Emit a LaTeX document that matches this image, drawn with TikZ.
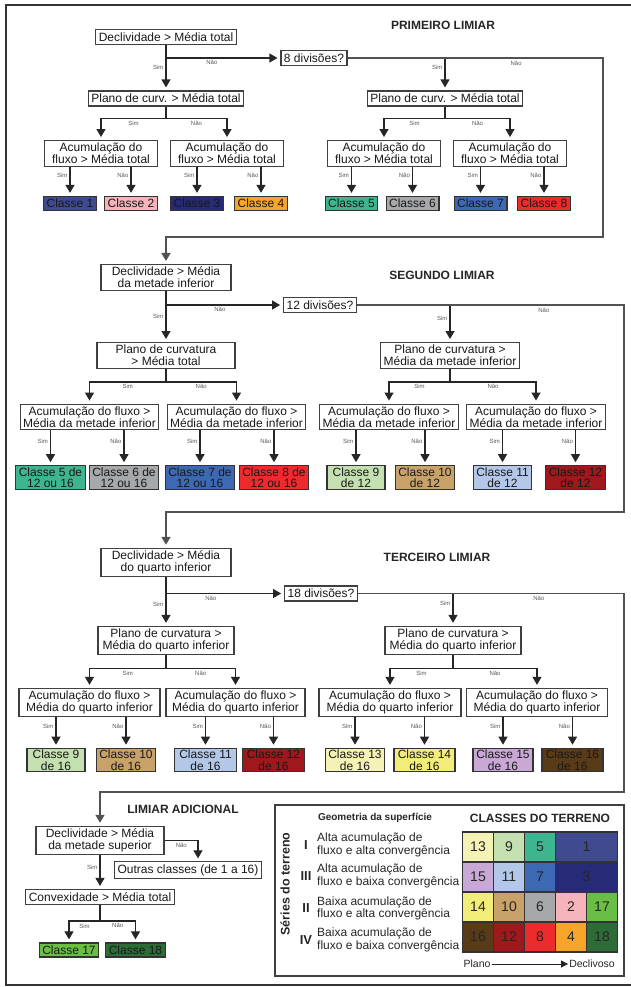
\documentclass[tikz,border=0pt]{standalone}
\usepackage{fontspec}
\setmainfont{Liberation Sans}
\usepackage{xcolor}
\usetikzlibrary{arrows.meta}

\definecolor{col1}{HTML}{404A8E}
\definecolor{col2}{HTML}{F5B4BB}
\definecolor{col3}{HTML}{262A77}
\definecolor{col4}{HTML}{F7A52A}
\definecolor{col5}{HTML}{3DB58E}
\definecolor{col6}{HTML}{A7A8AA}
\definecolor{col7}{HTML}{3D68B4}
\definecolor{col8}{HTML}{EE2B2C}
\definecolor{col9}{HTML}{C5E0B0}
\definecolor{col10}{HTML}{C9A26A}
\definecolor{col11}{HTML}{B3C8E9}
\definecolor{col12}{HTML}{A0171C}
\definecolor{col13}{HTML}{F5F2B5}
\definecolor{col14}{HTML}{F2EC78}
\definecolor{col15}{HTML}{C9A8D6}
\definecolor{col16}{HTML}{5A3B17}
\definecolor{col17}{HTML}{6ABD45}
\definecolor{col18}{HTML}{2E6C37}

\tikzset{
  box/.style={draw=black!75, line width=1.1pt, fill=white, align=center, inner xsep=3pt, inner ysep=2.5pt, minimum height=15pt, text=black!90, font=\fontsize{12}{12}\selectfont},
  cls/.style={box, draw=black!80, line width=1.3pt, inner ysep=1.5pt, minimum height=14pt},
  cls2/.style={cls, minimum width=58pt, font=\fontsize{12}{11.5}\selectfont},
  title/.style={text=black!85, font=\bfseries\fontsize{12}{12}\selectfont},
  lbl/.style={font=\fontsize{6}{6}\selectfont, text=black!65, inner sep=2pt},
  arr/.style={draw=black!85, line width=1.2pt, -{Triangle[length=8pt,width=9pt]}, shorten >=3pt},
  lnk/.style={arr, draw=black!68, line width=1.6pt},
  cell/.style={draw=black!80, line width=1.1pt, minimum width=31pt, minimum height=30pt, inner sep=0pt, text=black!85, font=\fontsize{14}{14}\selectfont},
  desc/.style={anchor=west, align=left, inner sep=0pt, text=black!85, font=\fontsize{12}{11}\selectfont},
  rom/.style={text=black!85, font=\bfseries\fontsize{13}{13}\selectfont},
}

\begin{document}
\begin{tikzpicture}[x=1pt, y=-1pt]
\useasboundingbox (0,0) rectangle (630,987);
\draw[line width=1.5pt, draw=black!80] (640,5) -- (6,5) -- (6,985) -- (640,985);

\node[title] (tit1) at (443,25) {PRIMEIRO LIMIAR};
\node[box] (d1) at (166,37) {Declividade > Média total};
\node[box] (v1) at (314,58) {8 divisões?};
\node[box] (p1) at (166,98.5) {Plano de curv. > Média total};
\node[box] (q1) at (445,98.5) {Plano de curv. > Média total};
\node[box, minimum width=113pt] (a1) at (101,153.5) {Acumulação do\\fluxo > Média total};
\node[box, minimum width=113pt] (a2) at (227,153.5) {Acumulação do\\fluxo > Média total};
\node[box, minimum width=113pt] (a3) at (384,153.5) {Acumulação do\\fluxo > Média total};
\node[box, minimum width=113pt] (a4) at (510,153.5) {Acumulação do\\fluxo > Média total};
\node[cls, fill=col1] (f1) at (70,203.5) {Classe 1};
\node[cls, fill=col2] (f2) at (131,203.5) {Classe 2};
\node[cls, fill=col3] (f3) at (197,203.5) {Classe 3};
\node[cls, fill=col4] (f4) at (261,203.5) {Classe 4};
\node[cls, fill=col5] (f5) at (351.5,203.5) {Classe 5};
\node[cls, fill=col6] (f6) at (412.5,203.5) {Classe 6};
\node[cls, fill=col7] (f7) at (480.5,203.5) {Classe 7};
\node[cls, fill=col8] (f8) at (544,203.5) {Classe 8};

\draw[arr] (d1) -- node[lbl, left, pos=0.5] {Sim} (p1);
\draw[arr] (d1.south |- v1.west) -- node[lbl, below, pos=0.4] {Não} (v1.west);
\draw[arr] (v1.east -| q1.north) -- node[lbl, left, pos=0.3] {Sim} (q1.north);
\draw[arr] (p1.south) -- ++(0,12) -| node[lbl, below, pos=0.25] {Sim} (a1.north);
\draw[arr] (p1.south) -- ++(0,12) -| node[lbl, below, pos=0.25] {Não} (a2.north);
\draw[arr] (q1.south) -- ++(0,12) -| node[lbl, below, pos=0.25] {Sim} (a3.north);
\draw[arr] (q1.south) -- ++(0,12) -| node[lbl, below, pos=0.25] {Não} (a4.north);
\draw[arr] (a1.south -| f1.north) -- node[lbl, left, pos=0.3] {Sim} (f1.north);
\draw[arr] (a1.south -| f2.north) -- node[lbl, left, pos=0.3] {Não} (f2.north);
\draw[arr] (a2.south -| f3.north) -- node[lbl, left, pos=0.3] {Sim} (f3.north);
\draw[arr] (a2.south -| f4.north) -- node[lbl, left, pos=0.3] {Não} (f4.north);
\draw[arr] (a3.south -| f5.north) -- node[lbl, left, pos=0.3] {Sim} (f5.north);
\draw[arr] (a3.south -| f6.north) -- node[lbl, left, pos=0.3] {Não} (f6.north);
\draw[arr] (a4.south -| f7.north) -- node[lbl, left, pos=0.3] {Sim} (f7.north);
\draw[arr] (a4.south -| f8.north) -- node[lbl, left, pos=0.3] {Não} (f8.north);

\node[title] (tit2) at (442,275) {SEGUNDO LIMIAR};
\node[box, minimum width=130pt] (d2) at (166,277.5) {Declividade > Média\\da metade inferior};
\node[box] (v2) at (320,305) {12 divisões?};
\node[box, minimum width=138pt] (p2) at (166,355.5) {Plano de curvatura\\> Média total};
\node[box] (q2) at (450,355.5) {Plano de curvatura >\\Média da metade inferior};
\node[box] (b1) at (89.5,417) {Acumulação do fluxo >\\Média da metade inferior};
\node[box] (b2) at (236.5,417) {Acumulação do fluxo >\\Média da metade inferior};
\node[box] (b3) at (389,417) {Acumulação do fluxo >\\Média da metade inferior};
\node[box] (b4) at (536,417) {Acumulação do fluxo >\\Média da metade inferior};
\node[cls2, fill=col5] (s5) at (50.5,477.5) {Classe 5 de\\12 ou 16};
\node[cls2, fill=col6] (s6) at (124,477.5) {Classe 6 de\\12 ou 16};
\node[cls2, fill=col7] (s7) at (200,477.5) {Classe 7 de\\12 ou 16};
\node[cls2, fill=col8] (s8) at (274,477.5) {Classe 8 de\\12 ou 16};
\node[cls2, fill=col9] (s9) at (356,477.5) {Classe 9\\de 12};
\node[cls2, fill=col10] (s10) at (425,477.5) {Classe 10\\de 12};
\node[cls2, fill=col11] (s11) at (502.5,477.5) {Classe 11\\de 12};
\node[cls2, fill=col12] (s12) at (575.5,477.5) {Classe 12\\de 12};

\coordinate (k1) at (603,237);
\draw[lnk] (v1.east) -| node[lbl, below, pos=0.33] {Não} (k1) -| (d2.north);
\draw[arr] (d2) -- node[lbl, left, pos=0.5] {Sim} (p2);
\draw[arr] (d2.south |- v2.west) -- node[lbl, below, pos=0.46] {Não} (v2.west);
\draw[arr] (v2.east -| q2.north) -- node[lbl, left, pos=0.35] {Sim} (q2.north);
\draw[arr] (p2.south) -- ++(0,13) -| node[lbl, below, pos=0.25] {Sim} (b1.north);
\draw[arr] (p2.south) -- ++(0,13) -| node[lbl, below, pos=0.25] {Não} (b2.north);
\draw[arr] (q2.south) -- ++(0,13) -| node[lbl, below, pos=0.25] {Sim} (b3.north);
\draw[arr] (q2.south) -- ++(0,13) -| node[lbl, below, pos=0.25] {Não} (b4.north);
\draw[arr] (b1.south -| s5.north) -- node[lbl, left, pos=0.3] {Sim} (s5.north);
\draw[arr] (b1.south -| s6.north) -- node[lbl, left, pos=0.3] {Não} (s6.north);
\draw[arr] (b2.south -| s7.north) -- node[lbl, left, pos=0.3] {Sim} (s7.north);
\draw[arr] (b2.south -| s8.north) -- node[lbl, left, pos=0.3] {Não} (s8.north);
\draw[arr] (b3.south -| s9.north) -- node[lbl, left, pos=0.3] {Sim} (s9.north);
\draw[arr] (b3.south -| s10.north) -- node[lbl, left, pos=0.3] {Não} (s10.north);
\draw[arr] (b4.south -| s11.north) -- node[lbl, left, pos=0.3] {Sim} (s11.north);
\draw[arr] (b4.south -| s12.north) -- node[lbl, left, pos=0.3] {Não} (s12.north);

\node[title] (tit3) at (437,557) {TERCEIRO LIMIAR};
\node[box, minimum width=130pt] (d3) at (166,562.5) {Declividade > Média\\do quarto inferior};
\node[box] (v3) at (321,593.5) {18 divisões?};
\node[box, minimum width=136pt] (p3) at (166,640.5) {Plano de curvatura >\\Média do quarto inferior};
\node[box, minimum width=136pt] (q3) at (453,640.5) {Plano de curvatura >\\Média do quarto inferior};
\node[box, minimum width=141pt] (e1) at (89.5,702.5) {Acumulação do fluxo >\\Média do quarto inferior};
\node[box, minimum width=139pt] (e2) at (235.5,702.5) {Acumulação do fluxo >\\Média do quarto inferior};
\node[box, minimum width=142pt] (e3) at (390,702.5) {Acumulação do fluxo >\\Média do quarto inferior};
\node[box, minimum width=141pt] (e4) at (537,702.5) {Acumulação do fluxo >\\Média do quarto inferior};
\node[cls2, fill=col9] (t9) at (56,760) {Classe 9\\de 16};
\node[cls2, fill=col10] (t10) at (126,760) {Classe 10\\de 16};
\node[cls2, fill=col11, minimum width=62pt] (t11) at (205.5,760) {Classe 11\\de 16};
\node[cls2, fill=col12, minimum width=62pt] (t12) at (273.5,760) {Classe 12\\de 16};
\node[cls2, fill=col13] (t13) at (355,760) {Classe 13\\de 16};
\node[cls2, fill=col14, minimum width=61pt] (t14) at (424.5,760) {Classe 14\\de 16};
\node[cls2, fill=col15, minimum width=60pt] (t15) at (503,760) {Classe 15\\de 16};
\node[cls2, fill=col16, minimum width=61pt] (t16) at (572.5,760) {Classe 16\\de 16};

\coordinate (k2) at (624,512);
\draw[lnk] (v2.east) -| node[lbl, below, pos=0.35] {Não} (k2) -| (d3.north);
\draw[arr] (d3) -- node[lbl, left, pos=0.55] {Sim} (p3);
\draw[arr] (d3.south |- v3.west) -- node[lbl, below, pos=0.38] {Não} (v3.west);
\draw[arr] (v3.east -| q3.north) -- node[lbl, left, pos=0.3] {Sim} (q3.north);
\draw[arr] (p3.south) -- ++(0,13) -| node[lbl, below, pos=0.25] {Sim} (e1.north);
\draw[arr] (p3.south) -- ++(0,13) -| node[lbl, below, pos=0.25] {Não} (e2.north);
\draw[arr] (q3.south) -- ++(0,13) -| node[lbl, below, pos=0.25] {Sim} (e3.north);
\draw[arr] (q3.south) -- ++(0,13) -| node[lbl, below, pos=0.25] {Não} (e4.north);
\draw[arr] (e1.south -| t9.north) -- node[lbl, left, pos=0.3] {Sim} (t9.north);
\draw[arr] (e1.south -| t10.north) -- node[lbl, left, pos=0.3] {Não} (t10.north);
\draw[arr] (e2.south -| t11.north) -- node[lbl, left, pos=0.3] {Sim} (t11.north);
\draw[arr] (e2.south -| t12.north) -- node[lbl, left, pos=0.3] {Não} (t12.north);
\draw[arr] (e3.south -| t13.north) -- node[lbl, left, pos=0.3] {Sim} (t13.north);
\draw[arr] (e3.south -| t14.north) -- node[lbl, left, pos=0.3] {Não} (t14.north);
\draw[arr] (e4.south -| t15.north) -- node[lbl, left, pos=0.3] {Sim} (t15.north);
\draw[arr] (e4.south -| t16.north) -- node[lbl, left, pos=0.3] {Não} (t16.north);

\node[title] (tit4) at (183,809) {LIMIAR ADICIONAL};
\node[box, minimum width=128pt] (d4) at (100,840.5) {Declividade > Média\\da metade superior};
\node[box] (outr) at (188,870) {Outras classes (de 1 a 16)};
\node[box] (cv) at (100,897) {Convexidade > Média total};
\node[cls, fill=col17] (c17) at (69,950) {Classe 17};
\node[cls, fill=col18] (c18) at (135.5,950) {Classe 18};

\coordinate (k3) at (624,792);
\draw[lnk] (v3.east) -| node[lbl, below, pos=0.34] {Não} (k3) -| (d4.north);
\draw[arr] (d4) -- node[lbl, left, pos=0.35] {Sim} (cv);
\draw[arr] (d4.east) -| node[lbl, below, pos=0.25] {Não} ([xshift=10pt]outr.north);
\draw[arr] (cv.south) -- ++(0,16) -| node[lbl, below, pos=0.25] {Sim} (c17.north);
\draw[arr] (cv.south) -- ++(0,16) -| node[lbl, below, pos=0.25] {Não} (c18.north);

\draw[line width=1.3pt, draw=black!75] (275,805) rectangle (624,976);
\node[text=black!85, font=\bfseries\fontsize{10}{10}\selectfont] (geo) at (375,818) {Geometria da superfície};
\node[title] (clt) at (540,818) {CLASSES DO TERRENO};
\node[rotate=90, title, font=\bfseries\fontsize{12.5}{12.5}\selectfont] (ser) at (285,884) {Séries do terreno};
\node[rom] (r1) at (306,845) {I};
\node[rom] (r3) at (306,876) {III};
\node[rom] (r2) at (306,908.5) {II};
\node[rom] (r4) at (306,940) {IV};
\node[desc] (g1txt) at (317,845) {Alta acumulação de\\fluxo e alta convergência};
\node[desc] (g3txt) at (317,876) {Alta acumulação de\\fluxo e baixa convergência};
\node[desc] (g2txt) at (317,908.5) {Baixa acumulação de\\fluxo e alta convergência};
\node[desc] (g4txt) at (317,940) {Baixa acumulação de\\fluxo e baixa convergência};

\node[cell, fill=col13] (g13) at (478,847) {13};
\node[cell, fill=col9] (g9) at (509,847) {9};
\node[cell, fill=col5] (g5) at (540,847) {5};
\node[cell, fill=col1, minimum width=62pt] (g1) at (586.5,847) {1};
\node[cell, fill=col15] (g15) at (478,877) {15};
\node[cell, fill=col11] (g11) at (509,877) {11};
\node[cell, fill=col7] (g7) at (540,877) {7};
\node[cell, fill=col3, minimum width=62pt] (g3) at (586.5,877) {3};
\node[cell, fill=col14] (g14) at (478,907) {14};
\node[cell, fill=col10] (g10) at (509,907) {10};
\node[cell, fill=col6] (g6) at (540,907) {6};
\node[cell, fill=col2] (g2) at (571,907) {2};
\node[cell, fill=col17] (g17) at (602,907) {17};
\node[cell, fill=col16] (g16) at (478,937) {16};
\node[cell, fill=col12] (g12) at (509,937) {12};
\node[cell, fill=col8] (g8) at (540,937) {8};
\node[cell, fill=col4] (g4) at (571,937) {4};
\node[cell, fill=col18] (g18) at (602,937) {18};

\node[text=black!85, inner sep=1pt, font=\fontsize{10.5}{10.5}\selectfont] (plano) at (477,964) {Plano};
\node[text=black!85, inner sep=1pt, font=\fontsize{10.5}{10.5}\selectfont] (decl) at (592,964) {Declivoso};
\draw[draw=black!85, line width=0.8pt, -{Triangle[length=7pt,width=7pt]}] (plano) -- (decl);
\end{tikzpicture}
\end{document}
